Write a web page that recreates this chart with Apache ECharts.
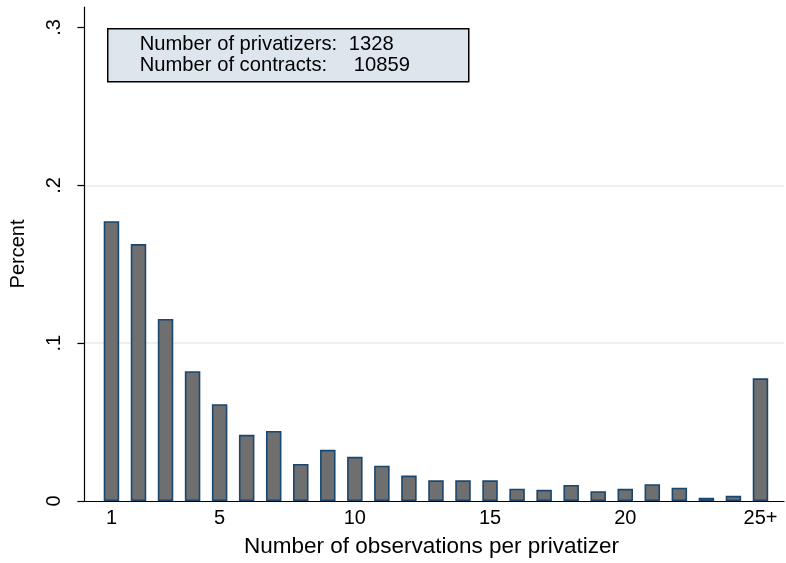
<!DOCTYPE html>
<html>
<head>
<meta charset="utf-8">
<script src="https://cdn.jsdelivr.net/npm/echarts@6/dist/echarts.min.js"></script>
<style>
  html, body { margin: 0; padding: 0; background: #fff; }
  #chart { width: 786px; height: 563px; }
</style>
</head>
<body>
<div id="chart"></div>
<script>
// observations per privatizer (25 = 25+)
const obsCounts = [1, 2, 3, 4, 5, 6, 7, 8, 9, 10, 11, 12, 13, 14, 15, 16, 17, 18, 19, 20, 21, 22, 23, 24, 25];
const percents = [0.1773, 0.1628, 0.1153, 0.0822, 0.0613, 0.0419, 0.0444, 0.0235, 0.0324, 0.0280,
  0.0224, 0.0161, 0.0131, 0.0131, 0.0131, 0.0078, 0.0071, 0.0102, 0.0062, 0.0077,
  0.0106, 0.0084, 0.0021, 0.0033, 0.0777];
const xTicks = [1, 5, 10, 15, 20, 25];
const yTicks = [0, 0.1, 0.2, 0.3];
const boxLabels = ["Number of privatizers:", "Number of contracts:"];
const boxValues = ["1328", "10859"];

const font = "'Liberation Sans', Arial, Helvetica, sans-serif";
const chart = echarts.init(document.getElementById("chart"));

chart.setOption({
  animation: false,
  grid: { left: 79, right: 2, top: 7, bottom: 61.5 },
  xAxis: {
    type: "value",
    min: -0.2,
    max: 25.87,
    name: "Number of observations per privatizer",
    nameLocation: "middle",
    nameGap: 34,
    nameTextStyle: { fontFamily: font, fontSize: 22.5, color: "#000" },
    axisLine: { show: true, lineStyle: { color: "#000", width: 1.2 } },
    axisTick: { show: false },
    splitLine: { show: false },
    axisLabel: {
      customValues: xTicks,
      margin: 7,
      fontFamily: font, fontSize: 20, color: "#000",
      formatter: v => (v === 25 ? "25+" : String(v))
    }
  },
  yAxis: {
    type: "value",
    min: 0,
    max: 0.313,
    interval: 0.1,
    name: "Percent",
    nameLocation: "middle",
    nameGap: 51,
    nameTextStyle: { fontFamily: font, fontSize: 20, color: "#000" },
    axisLine: { show: true, lineStyle: { color: "#000", width: 1.2 } },
    axisTick: { show: true, customValues: yTicks, length: 7, lineStyle: { color: "#000", width: 1.2 } },
    splitLine: {
      show: true,
      showMinLine: false,
      showMaxLine: false,
      lineStyle: { color: ["#e3ecef", "#e3ecef", "rgba(0,0,0,0)"], width: 1.5 }
    },
    axisLabel: {
      customValues: yTicks,
      rotate: 90,
      margin: 15,
      fontFamily: font, fontSize: 20, color: "#000",
      formatter: v => (v === 0 ? "0" : "." + Math.round(v * 10))
    }
  },
  series: [{
    type: "bar",
    data: obsCounts.map((x, i) => [x, percents[i]]),
    barWidth: 15.5,
    itemStyle: { color: "#6f6f6f", borderColor: "#1a476f", borderWidth: 1.6 }
  }],
  graphic: [{
    type: "group",
    left: 107,
    top: 28,
    children: [
      { type: "rect", shape: { x: 0, y: 0, width: 361, height: 53 },
        style: { fill: "#dce6ec", stroke: "#000", lineWidth: 1.5 } },
      { type: "text", x: 32, y: 15.5, style: { text: boxLabels[0], font: "20.2px " + font, fill: "#000", textVerticalAlign: "middle" } },
      { type: "text", x: 241, y: 15.5, style: { text: boxValues[0], font: "20.2px " + font, fill: "#000", textVerticalAlign: "middle" } },
      { type: "text", x: 32, y: 37, style: { text: boxLabels[1], font: "20.2px " + font, fill: "#000", textVerticalAlign: "middle" } },
      { type: "text", x: 246, y: 37, style: { text: boxValues[1], font: "20.2px " + font, fill: "#000", textVerticalAlign: "middle" } }
    ]
  }]
});
</script>
</body>
</html>
